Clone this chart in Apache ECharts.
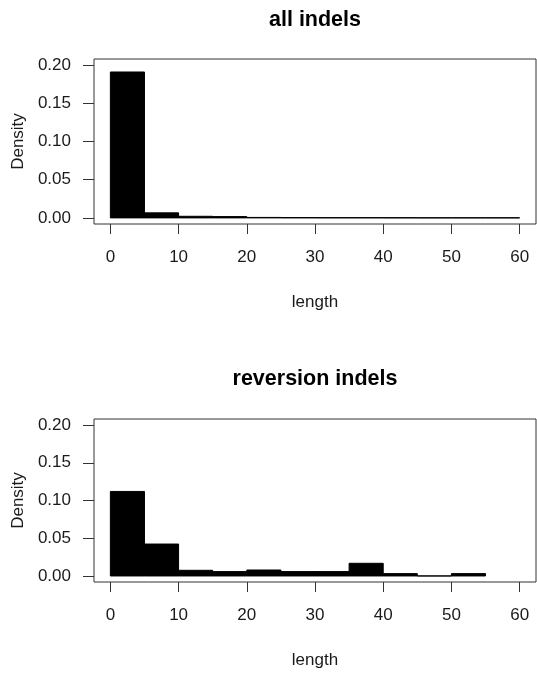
<!DOCTYPE html>
<html>
<head>
<meta charset="utf-8">
<script src="https://cdn.jsdelivr.net/npm/echarts@6/dist/echarts.min.js"></script>
<style>
html,body{margin:0;padding:0;background:#fff;}
#c{width:537px;height:673px;}
</style>
</head>
<body>
<div id="c"></div>
<script>
// ---- data ----
var binWidth = 5;
var allBinStarts = [0, 5, 10, 15, 20, 25, 30, 35, 40, 45, 50, 55];
var allDensity = [0.191, 0.0066, 0.0021, 0.0017, 0.0006, 0.0004, 0.0003, 0.0003, 0.0002, 0.0001, 0.0001, 0.0001];
var revBinStarts = [0, 5, 10, 15, 20, 25, 30, 35, 40, 45, 50];
var revDensity = [0.112, 0.0423, 0.0075, 0.0058, 0.0079, 0.0058, 0.0058, 0.0168, 0.0031, 0.0, 0.0031];
var xTicks = [0, 10, 20, 30, 40, 50, 60];
var yTicks = [0, 0.05, 0.10, 0.15, 0.20];
var titles = ['all indels', 'reversion indels'];
var xName = 'length';
var yName = 'Density';

var FONT = '"Liberation Sans", Arial, Helvetica, sans-serif';
var TXT = '#1a1a1a';
var LINE = '#333';

function toData(starts, vals) {
  return starts.map(function (s, i) { return [s, s + binWidth, vals[i]]; });
}

function renderBar(params, api) {
  var p0 = api.coord([api.value(0), api.value(2)]);
  var p1 = api.coord([api.value(1), 0]);
  return {
    type: 'rect',
    shape: { x: p0[0], y: p0[1], width: p1[0] - p0[0], height: p1[1] - p0[1] },
    style: { fill: '#000', stroke: '#000', lineWidth: 1 }
  };
}

var grids = [
  { left: 94, right: 1, top: 59, height: 165 },
  { left: 94, right: 1, top: 419, height: 163 }
];

function xAxisFor(i) {
  return {
    gridIndex: i, type: 'value', min: -2.4, max: 62.4, position: 'bottom',
    axisLine: { show: false, onZero: false },
    splitLine: { show: false },
    axisTick: { show: true, inside: false, customValues: xTicks, length: 10, lineStyle: { color: LINE, width: 1 } },
    axisLabel: { customValues: xTicks, fontSize: 17, fontFamily: FONT, color: TXT, margin: 25 },
    name: xName, nameLocation: 'middle', nameGap: 70,
    nameTextStyle: { fontSize: 17, fontFamily: FONT, color: TXT }
  };
}
function yAxisFor(i) {
  return {
    gridIndex: i, type: 'value', min: -0.008, max: 0.208, position: 'left',
    axisLine: { show: false, onZero: false },
    splitLine: { show: false },
    axisTick: { show: true, inside: false, customValues: yTicks, length: 11, lineStyle: { color: LINE, width: 1 } },
    axisLabel: { customValues: yTicks, fontSize: 17, fontFamily: FONT, color: TXT, margin: 23,
      formatter: function (v) { return v.toFixed(2); } },
    name: yName, nameLocation: 'middle', nameGap: 67,
    nameTextStyle: { fontSize: 17, fontFamily: FONT, color: TXT }
  };
}

var option = {
  backgroundColor: '#fff',
  animation: false,
  title: [
    { text: titles[0], left: 315, top: 9, textAlign: 'center', padding: 0,
      textStyle: { fontSize: 21.5, fontWeight: 'bold', fontFamily: FONT, color: '#000' } },
    { text: titles[1], left: 315, top: 368, textAlign: 'center', padding: 0,
      textStyle: { fontSize: 21.5, fontWeight: 'bold', fontFamily: FONT, color: '#000' } }
  ],
  grid: grids.map(function (g) {
    return Object.assign({ show: true, borderColor: LINE, borderWidth: 1, backgroundColor: 'transparent' }, g);
  }),
  xAxis: [xAxisFor(0), xAxisFor(1)],
  yAxis: [yAxisFor(0), yAxisFor(1)],
  series: [
    { type: 'custom', xAxisIndex: 0, yAxisIndex: 0, renderItem: renderBar,
      encode: { x: [0, 1], y: 2 }, data: toData(allBinStarts, allDensity) },
    { type: 'custom', xAxisIndex: 1, yAxisIndex: 1, renderItem: renderBar,
      encode: { x: [0, 1], y: 2 }, data: toData(revBinStarts, revDensity) }
  ]
};

var chart = echarts.init(document.getElementById('c'), null, { renderer: 'canvas' });
chart.setOption(option);
</script>
</body>
</html>
